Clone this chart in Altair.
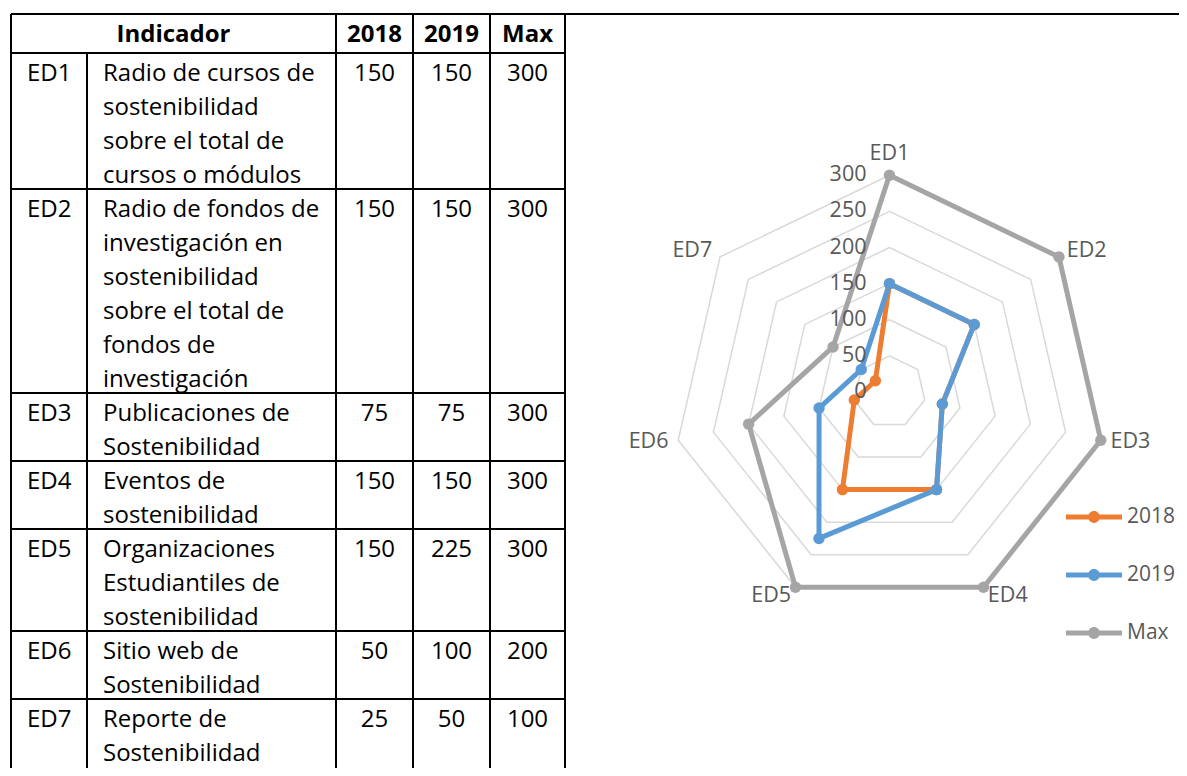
import math
import altair as alt
import pandas as pd

# ---------------- data ----------------
codes = ["ED1", "ED2", "ED3", "ED4", "ED5", "ED6", "ED7"]
descriptions = [
    ["Radio de cursos de", "sostenibilidad", "sobre el total de", "cursos o módulos"],
    ["Radio de fondos de", "investigación en", "sostenibilidad", "sobre el total de",
     "fondos de", "investigación"],
    ["Publicaciones de", "Sostenibilidad"],
    ["Eventos de", "sostenibilidad"],
    ["Organizaciones", "Estudiantiles de", "sostenibilidad"],
    ["Sitio web de", "Sostenibilidad"],
    ["Reporte de", "Sostenibilidad"],
]
v2018 = [150, 150, 75, 150, 150, 50, 25]
v2019 = [150, 150, 75, 150, 225, 100, 50]
vmax = [300, 300, 300, 300, 300, 200, 100]
header_labels = ["Indicador", "2018", "2019", "Max"]
series_names = ["2018", "2019", "Max"]
series_colors = ["#ED7D31", "#5B9BD5", "#A5A5A5"]
ring_values = [0, 50, 100, 150, 200, 250, 300]

# ---------------- layout ----------------
W, H = 1171, 760
FONT = "Open Sans"
TEXT_SIZE = 24
LABEL_SIZE = 21.5
LEGEND_SIZE = 21
LABEL_COLOR = "#595959"

TABLE_X0 = 3
COL_W = [76, 249, 77, 77, 75]
TABLE_Y0 = 6
HEADER_H = 39
LINE_H = 34.0
FIRST_LINE = 20.5
PAD_LEFT = 16

col_edges = [TABLE_X0]
for w in COL_W:
    col_edges.append(col_edges[-1] + w)
col_centers = [(col_edges[i] + col_edges[i + 1]) / 2 for i in range(len(COL_W))]

row_tops = []
yy = TABLE_Y0 + HEADER_H
for d in descriptions:
    row_tops.append(yy)
    yy += len(d) * LINE_H
row_bottoms = [t + len(d) * LINE_H for t, d in zip(row_tops, descriptions)]

# table text records
header_rows = [{"x": (col_edges[0] + col_edges[2]) / 2, "y": TABLE_Y0 + FIRST_LINE, "t": header_labels[0]}]
for j, lab in enumerate(header_labels[1:]):
    header_rows.append({"x": col_centers[2 + j], "y": TABLE_Y0 + FIRST_LINE, "t": lab})

left_rows, num_rows = [], []
for i, code in enumerate(codes):
    top = row_tops[i]
    left_rows.append({"x": col_edges[0] + PAD_LEFT, "y": top + FIRST_LINE, "t": code})
    for k, line in enumerate(descriptions[i]):
        left_rows.append({"x": col_edges[1] + PAD_LEFT, "y": top + FIRST_LINE + k * LINE_H, "t": line})
    for j, vals in enumerate([v2018, v2019, vmax]):
        num_rows.append({"x": col_centers[2 + j], "y": top + FIRST_LINE, "t": str(vals[i])})

rule_rows = [{"x": col_edges[0], "x2": W, "y": TABLE_Y0, "y2": TABLE_Y0}]
for yb in [TABLE_Y0 + HEADER_H] + row_bottoms:
    if yb < H - 4:
        rule_rows.append({"x": col_edges[0], "x2": col_edges[-1], "y": yb, "y2": yb})
for k, xe in enumerate(col_edges):
    y_start = TABLE_Y0 + HEADER_H if k == 1 else TABLE_Y0
    rule_rows.append({"x": xe, "x2": xe, "y": y_start, "y2": H})

xs = alt.Scale(domain=[0, W], nice=False, zero=False)
ys = alt.Scale(domain=[0, H], reverse=True, nice=False, zero=False)

rules = alt.Chart(pd.DataFrame(rule_rows)).mark_rule(color="black", strokeWidth=2).encode(
    x=alt.X("x:Q", scale=xs, axis=None), x2="x2:Q",
    y=alt.Y("y:Q", scale=ys, axis=None), y2="y2:Q",
)
text_left = alt.Chart(pd.DataFrame(left_rows)).mark_text(
    align="left", baseline="middle", font=FONT, fontSize=TEXT_SIZE, color="black"
).encode(x=alt.X("x:Q", scale=xs, axis=None), y=alt.Y("y:Q", scale=ys, axis=None), text="t:N")
text_num = alt.Chart(pd.DataFrame(num_rows)).mark_text(
    align="center", baseline="middle", font=FONT, fontSize=TEXT_SIZE, color="black"
).encode(x=alt.X("x:Q", scale=xs, axis=None), y=alt.Y("y:Q", scale=ys, axis=None), text="t:N")
text_head = alt.Chart(pd.DataFrame(header_rows)).mark_text(
    align="center", baseline="middle", font=FONT, fontSize=TEXT_SIZE, fontWeight="bold", color="black"
).encode(x=alt.X("x:Q", scale=xs, axis=None), y=alt.Y("y:Q", scale=ys, axis=None), text="t:N")

table = alt.layer(rules, text_left, text_num, text_head)

# ---------------- radar ----------------
CX, CY = 881.5, 384
K = 216.7 / 300  # pixels per unit
rx = alt.Scale(domain=[-CX / K, (W - CX) / K], nice=False, zero=False)
ry = alt.Scale(domain=[-(H - CY) / K, CY / K], nice=False, zero=False)
n = len(codes)
ang = [2 * math.pi * i / n for i in range(n)]

grid_rows = []
for r in ring_values[1:]:
    for i in range(n + 1):
        a = ang[i % n]
        grid_rows.append({"ring": r, "o": i, "x": r * math.sin(a), "y": r * math.cos(a)})

series_rows = []
for s, vals in zip(series_names, [v2018, v2019, vmax]):
    for i in range(n + 1):
        a = ang[i % n]
        v = vals[i % n]
        series_rows.append({"series": s, "o": i, "x": v * math.sin(a), "y": v * math.cos(a),
                            "value": v, "cat": codes[i % n]})
series_df = pd.DataFrame(series_rows)
point_df = series_df[series_df["o"] < n]

ring_df = pd.DataFrame({"x": [0] * len(ring_values), "y": ring_values,
                        "t": [str(v) for v in ring_values]})

PAD_UNITS = 10 / K
cat_rows = []
for i, c in enumerate(codes):
    a = ang[i]
    s = math.sin(a)
    grp = "left" if s > 0.1 else ("right" if s < -0.1 else "center")
    cat_rows.append({"t": c, "x": (300 + PAD_UNITS) * s, "y": (300 + PAD_UNITS) * math.cos(a), "g": grp})
cat_df = pd.DataFrame(cat_rows)

grid = alt.Chart(pd.DataFrame(grid_rows)).mark_line(color="#D9D9D9", strokeWidth=1.5).encode(
    x=alt.X("x:Q", scale=rx, axis=None), y=alt.Y("y:Q", scale=ry, axis=None),
    detail="ring:N", order="o:Q",
)
# stroke scale listed in reverse order (same mapping) so its hidden legend is not merged with the colour legend
lines = alt.Chart(series_df).mark_line(strokeWidth=5, strokeJoin="round", strokeCap="round").encode(
    x=alt.X("x:Q", scale=rx, axis=None), y=alt.Y("y:Q", scale=ry, axis=None),
    stroke=alt.Stroke("series:N", scale=alt.Scale(domain=series_names[::-1], range=series_colors[::-1]),
                      legend=None),
    order="o:Q",
)
legend_path = ("M-1,-0.085 L1,-0.085 L1,0.085 L-1,0.085 Z "
               "M0.21,0 A0.21,0.21 0 1 1 -0.21,0 A0.21,0.21 0 1 1 0.21,0 Z")
points = alt.Chart(point_df).mark_circle(size=130, opacity=1).encode(
    x=alt.X("x:Q", scale=rx, axis=None), y=alt.Y("y:Q", scale=ry, axis=None),
    color=alt.Color("series:N", scale=alt.Scale(domain=series_names, range=series_colors),
                    legend=alt.Legend(title=None, orient="none", legendX=1058, legendY=481,
                                      symbolType=legend_path, symbolSize=3136,
                                      symbolStrokeWidth=0, symbolOpacity=1,
                                      labelFont=FONT, labelFontSize=LEGEND_SIZE,
                                      labelColor=LABEL_COLOR, labelOffset=5,
                                      rowPadding=20, padding=0)),
)
ring_labels = alt.Chart(ring_df).mark_text(
    align="right", baseline="middle", dx=-23, font=FONT, fontSize=LABEL_SIZE, color=LABEL_COLOR
).encode(x=alt.X("x:Q", scale=rx, axis=None), y=alt.Y("y:Q", scale=ry, axis=None), text="t:N")


def cat_layer(group, align, baseline):
    return alt.Chart(cat_df[cat_df["g"] == group]).mark_text(
        align=align, baseline=baseline, font=FONT, fontSize=LABEL_SIZE, color=LABEL_COLOR
    ).encode(x=alt.X("x:Q", scale=rx, axis=None), y=alt.Y("y:Q", scale=ry, axis=None), text="t:N")


radar = alt.layer(grid, lines, points, ring_labels,
                  cat_layer("left", "left", "middle"),
                  cat_layer("right", "right", "middle"),
                  cat_layer("center", "center", "bottom"))

chart = alt.layer(table, radar).resolve_scale(x="independent", y="independent").properties(
    width=W, height=H, autosize=alt.AutoSizeParams(type="none"), padding=0,
    background="white",
).configure_view(stroke=None)

chart.save("out.html", embed_options={"renderer": "svg", "actions": False})
